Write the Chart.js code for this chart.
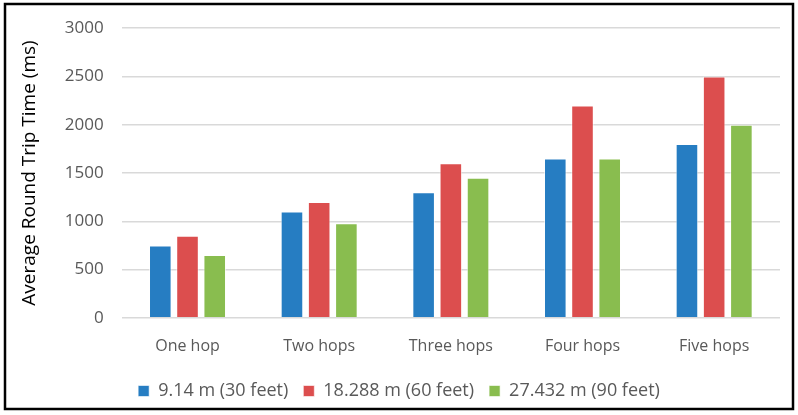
<!DOCTYPE html>
<html>
<head>
<meta charset="utf-8">
<script src="https://cdn.jsdelivr.net/npm/chart.js@4"></script>
<style>
  html, body { margin: 0; padding: 0; background: #fff; }
  #wrap { width: 798px; height: 415px; }
</style>
</head>
<body>
<div id="wrap"><canvas id="bar-chart" width="798" height="415"></canvas></div>
<script>
const categories = ['One hop', 'Two hops', 'Three hops', 'Four hops', 'Five hops'];
const seriesNames = ['9.14 m (30 feet)', '18.288 m (60 feet)', '27.432 m (90 feet)'];
const rtt30 = [750, 1100, 1300, 1650, 1800];
const rtt60 = [850, 1200, 1600, 2200, 2500];
const rtt90 = [650, 980, 1450, 1650, 2000];
const yTicks = [0, 500, 1000, 1500, 2000, 2500, 3000];

const colors = ['rgb(38, 125, 194)', 'rgb(220, 78, 78)', 'rgb(137, 189, 79)'];

const createDataset = (label, data, color) => {
  return {
    label: label,
    data: data,
    backgroundColor: color,
    borderColor: 'rgba(255, 255, 255, 0.6)',
    borderWidth: 1,
    barPercentage: 0.83,
    categoryPercentage: 0.62,
  };
};

const frame = {
  id: 'frame',
  beforeDraw(chart) {
    const ctx = chart.ctx;
    ctx.save();
    ctx.fillStyle = '#fff';
    ctx.fillRect(0, 0, chart.width, chart.height);
    ctx.restore();
  },
  afterDraw(chart) {
    const ctx = chart.ctx;
    ctx.save();
    ctx.strokeStyle = '#000';
    ctx.lineWidth = 2.5;
    ctx.strokeRect(5, 4, 788, 405);
    ctx.restore();
  },
};

const font = "'Open Sans', 'Noto Sans', sans-serif";

new Chart(document.getElementById('bar-chart'), {
  type: 'bar',
  data: {
    labels: categories,
    datasets: [
      createDataset(seriesNames[0], rtt30, colors[0]),
      createDataset(seriesNames[1], rtt60, colors[1]),
      createDataset(seriesNames[2], rtt90, colors[2]),
    ],
  },
  options: {
    responsive: false,
    animation: false,
    layout: {
      padding: { left: 18, right: 18, top: 10, bottom: 5 },
    },
    scales: {
      y: {
        min: 0,
        max: 3000,
        afterBuildTicks: (axis) => {
          axis.ticks = yTicks.map((v) => ({ value: v }));
        },
        grid: { color: '#d9d9d9', lineWidth: 1.5, drawTicks: false },
        border: { display: false },
        ticks: {
          color: '#595959',
          padding: 18,
          font: { family: font, size: 17 },
          callback: (v) => String(v),
        },
        title: {
          display: true,
          text: 'Average Round Trip Time (ms)',
          color: '#000',
          padding: { top: 0, bottom: 6 },
          font: { family: font, size: 19 },
        },
      },
      x: {
        grid: { display: false },
        border: { display: false },
        ticks: {
          color: '#595959',
          padding: 11,
          font: { family: font, size: 16 },
        },
      },
    },
    plugins: {
      legend: {
        position: 'bottom',
        labels: {
          color: '#595959',
          boxWidth: 11,
          boxHeight: 11,
          padding: 15,
          font: { family: font, size: 18 },
        },
      },
      tooltip: { enabled: false },
    },
  },
  plugins: [frame],
});
</script>
</body>
</html>
